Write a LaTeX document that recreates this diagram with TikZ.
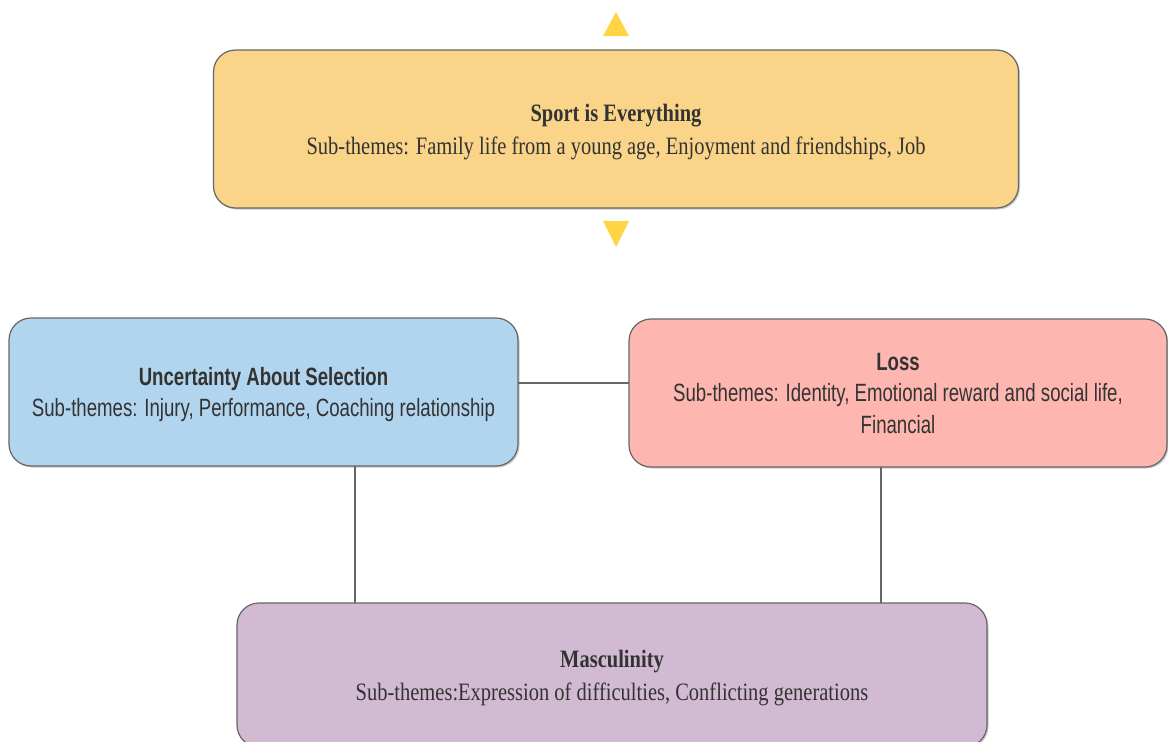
\documentclass[tikz,border=0pt]{standalone}
\usepackage{fontspec}
\usetikzlibrary{shadows}
\newfontfamily\serifc{Liberation Serif}[FakeStretch=0.82]
\newfontfamily\sansc{Liberation Sans}[FakeStretch=0.745]
\definecolor{yellowfill}{HTML}{FAD488}
\definecolor{bluefill}{HTML}{B1D5EE}
\definecolor{pinkfill}{HTML}{FEB6B1}
\definecolor{purplefill}{HTML}{D2BBD2}
\definecolor{trifill}{HTML}{FFD445}
\definecolor{edgegray}{HTML}{666666}
\tikzset{
  themebox/.style={draw=edgegray, line width=1.2pt, rounded corners=22pt, inner sep=0pt, outer sep=0pt,
    align=center, text=black!80, text depth=0pt,
    drop shadow={shadow xshift=1.5pt, shadow yshift=-1.5pt, opacity=0.35, fill=black!60}},
  serifbox/.style={themebox, font=\serifc\fontsize{25}{33}\selectfont},
  sansbox/.style={themebox, font=\sansc\fontsize{25}{31.5}\selectfont},
  link/.style={draw=edgegray, line width=1.2pt},
  tri/.style={fill=trifill}
}
\begin{document}
\begin{tikzpicture}[x=1pt,y=-1pt]
\useasboundingbox (0,0) rectangle (1168,742);
\fill[white] (0,0) rectangle (1168,742);
% triangles
\fill[tri] (603,36) -- (629,36) -- (616,12) -- cycle;
\fill[tri] (603,221) -- (629,221) -- (616,247) -- cycle;
% boxes
\node[serifbox, fill=yellowfill, minimum width=805pt, minimum height=158pt] (sport) at (616,129)
  {\textbf{Sport is Everything}\\Sub-themes: Family life from a young age, Enjoyment and friendships, Job};
\node[sansbox, fill=bluefill, minimum width=509pt, minimum height=148pt] (unc) at (263.5,392)
  {\textbf{Uncertainty About Selection}\\Sub-themes: Injury, Performance, Coaching relationship};
\node[sansbox, fill=pinkfill, minimum width=538pt, minimum height=148pt] (loss) at (898,393)
  {\textbf{Loss}\\Sub-themes: Identity, Emotional reward and social life,\\Financial};
\node[serifbox, fill=purplefill, minimum width=750pt, minimum height=144pt] (masc) at (612,675)
  {\textbf{Masculinity}\\Sub-themes:Expression of difficulties, Conflicting generations};
% connectors
\draw[link] ([yshift=9pt]unc.east) -- ([yshift=9pt]unc.east -| loss.west);
\draw[link] ([xshift=91.5pt]unc.south) -- ([xshift=91.5pt]unc.south |- masc.north);
\draw[link] ([xshift=-17pt]loss.south) -- ([xshift=-17pt]loss.south |- masc.north);
\end{tikzpicture}
\end{document}
